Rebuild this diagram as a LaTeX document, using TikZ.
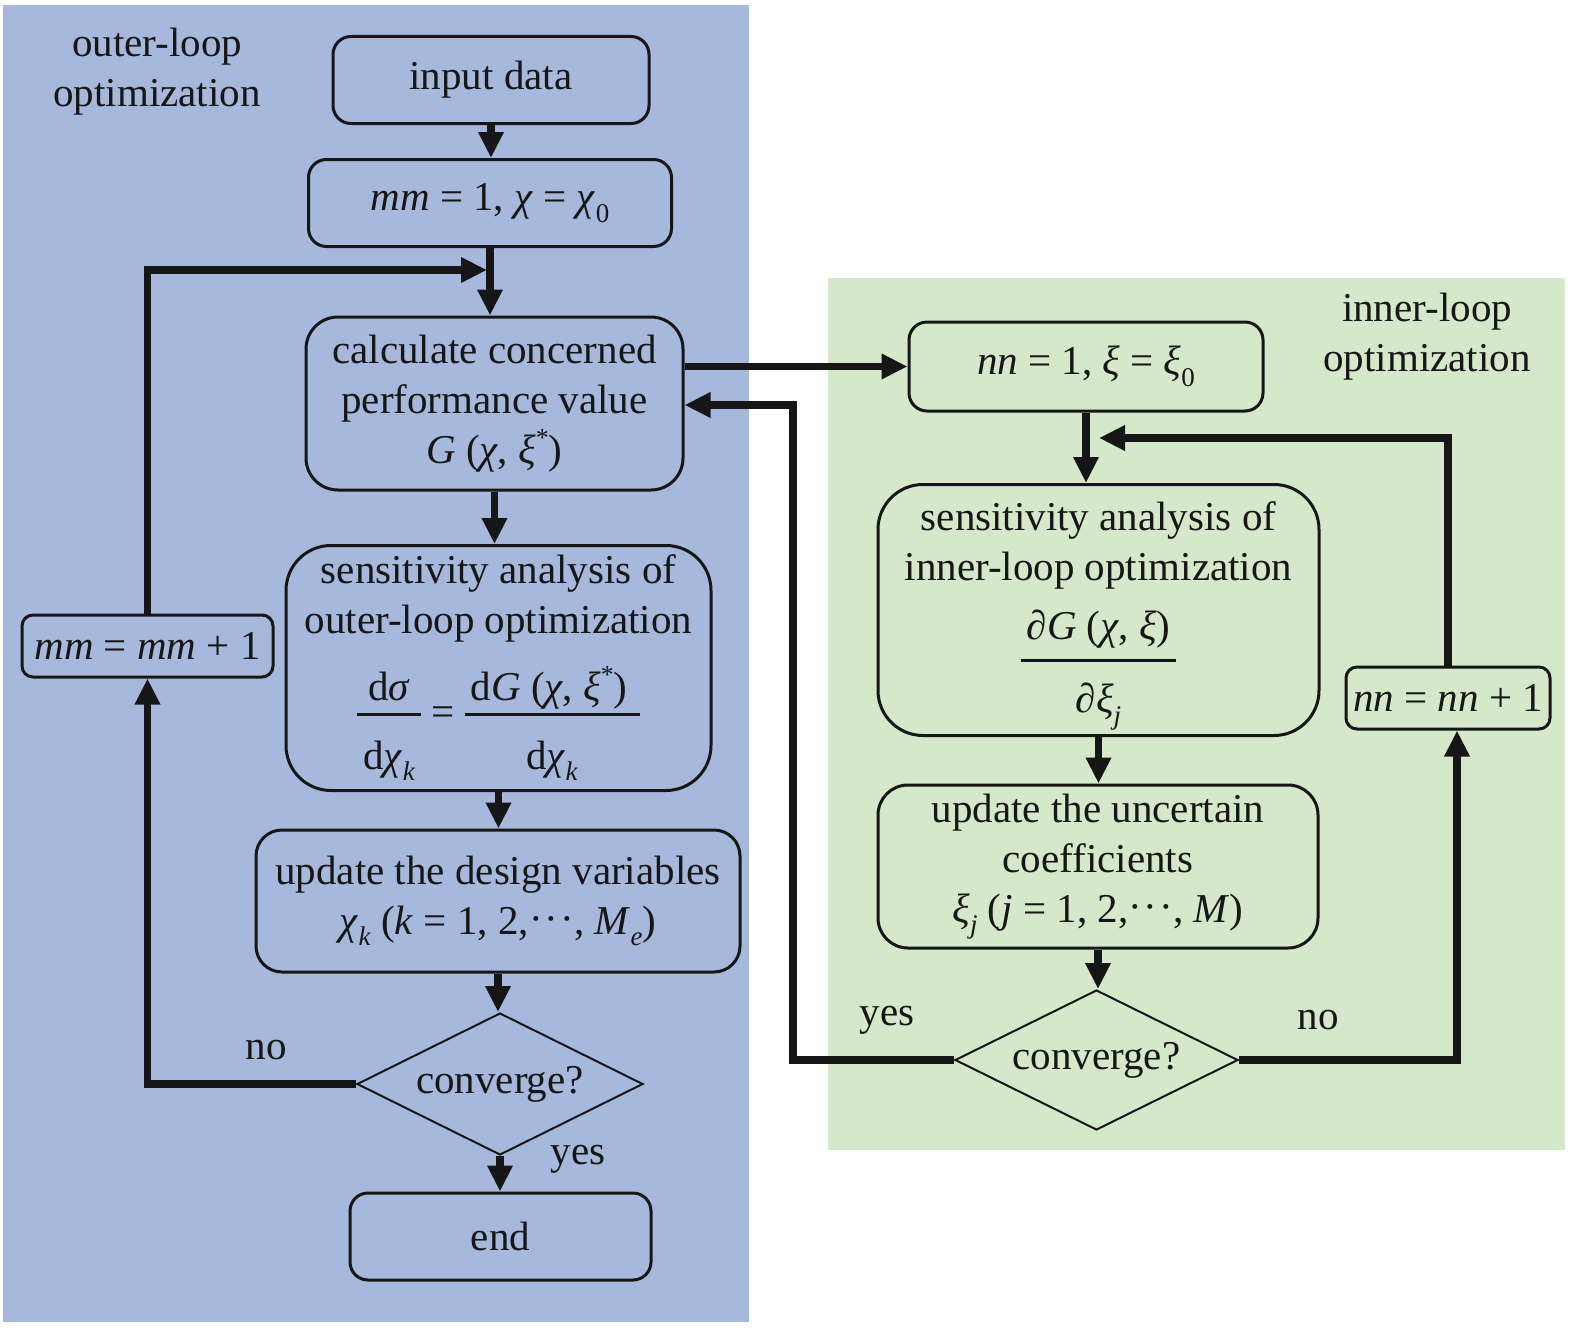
\documentclass[tikz,border=0pt]{standalone}
\usepackage{fontspec}
\setmainfont{Liberation Serif}
\usetikzlibrary{shapes.geometric,arrows.meta}
\definecolor{bluebg}{RGB}{166,184,219}
\definecolor{greenbg}{RGB}{213,232,201}
\definecolor{ink}{RGB}{22,22,22}
\newcommand\lowsub[1]{\raisebox{-0.28em}{\fontsize{27}{27}\selectfont #1}}
\newcommand\highsup[1]{\raisebox{0.42em}{\fontsize{26}{26}\selectfont #1}}
% \myfrac[raise]{numerator depth}{denominator height}{denominator depth}{num}{den}
\newcommand\myfrac[6][25pt]{%
  \raisebox{#1}{\vtop{\tabskip=0pt\halign{\hfil\kern6pt##\kern6pt\hfil\cr
    \vrule height 34pt depth #2 width 0pt\relax #5\cr
    \noalign{\kern3pt\hrule height 3pt\kern3pt}
    \vrule height #3 depth #4 width 0pt\relax #6\cr}}}}
\newcommand\mydots{\raisebox{0.05em}{·\kern2pt·\kern2pt·}}
\begin{document}
\begin{tikzpicture}[x=1pt,y=-1pt,
  box/.style={draw=ink, line width=3pt, align=center, inner sep=0pt, text=ink,
    font=\fontsize{41}{50}\selectfont},
  dia/.style={draw=ink, line width=2pt, diamond, aspect=2, inner sep=0pt, text=ink,
    font=\fontsize{41}{50}\selectfont},
  conn/.style={draw=ink, line width=7.5pt},
  arr/.style={conn, -{Triangle[length=26pt,width=24pt]}},
  lbl/.style={font=\fontsize{41}{50}\selectfont, text=ink, align=center, inner sep=0pt}
]
\useasboundingbox (0,0) rectangle (1575,1330);
\fill[white] (0,0) rectangle (1575,1330);
\fill[bluebg] (3,5) rectangle (749,1322);
\fill[greenbg] (828,278) rectangle (1565,1150);

% outer loop
\node[box, minimum width=316pt, minimum height=87pt, rounded corners=18pt] (inp) at (491,80) {input data};
\node[box, minimum width=363pt, minimum height=87pt, rounded corners=18pt] (mm1) at (490,203) {\textit{mm} = 1, \textit{χ} = \textit{χ}\lowsub{0}};
\node[box, minimum width=377pt, minimum height=173pt, rounded corners=32pt] (calc) at (494.5,403.5) {calculate concerned\\performance value\\\textit{G} (\textit{χ}, \textit{ξ}\highsup{*})};
\node[box, minimum width=425pt, minimum height=245pt, rounded corners=45pt] (sens1) at (498.5,668) {sensitivity analysis of\\outer-loop optimization\\[23pt]\myfrac{10pt}{50pt}{12pt}{d\textit{σ}}{d\textit{χ}\lowsub{\textit{k}}} = \myfrac{10pt}{50pt}{12pt}{d\textit{G} (\textit{χ}, \textit{ξ}\highsup{*})\kern6pt}{d\textit{χ}\lowsub{\textit{k}}}};
\node[box, minimum width=484pt, minimum height=142pt, rounded corners=26pt] (upd1) at (498,901) {update the design variables\\\textit{χ}\lowsub{\textit{k}} (\textit{k} = 1, 2,\mydots, \textit{M}\lowsub{\textit{e}})};
\node[dia, minimum width=286pt, minimum height=142pt] (dia1) at (500,1084) {converge?};
\node[box, minimum width=301pt, minimum height=87pt, rounded corners=18pt] (endn) at (500.5,1236.5) {end};
\node[box, minimum width=251pt, minimum height=62pt, rounded corners=11pt] (mm2) at (147.5,646) {\textit{mm} = \textit{mm} +\ 1};

% inner loop
\node[box, minimum width=354pt, minimum height=89pt, rounded corners=18pt] (nn1) at (1086,366.5) {\textit{nn} = 1, \textit{ξ} = \textit{ξ}\lowsub{0}};
\node[box, minimum width=441pt, minimum height=251pt, rounded corners=45pt] (sens2) at (1098.5,610) {\rule{0pt}{40pt}sensitivity analysis of\\inner-loop optimization\\[16pt]\myfrac{16pt}{48pt}{0pt}{∂\textit{G} (\textit{χ}, \textit{ξ})}{∂\textit{ξ}\lowsub{\textit{j}}}};
\node[box, minimum width=440pt, minimum height=163pt, rounded corners=30pt] (upd2) at (1098,866.5) {update the uncertain\\coefficients\\\textit{ξ}\lowsub{\textit{j}} (\textit{j} = 1, 2,\mydots, \textit{M})};
\node[dia, minimum width=283pt, minimum height=140pt] (dia2) at (1096.5,1060) {converge?};
\node[box, minimum width=204pt, minimum height=62pt, rounded corners=11pt] (nn2) at (1448,698) {\textit{nn} = \textit{nn} +\ 1};

% labels
\node[lbl] (lo) at (157,72) {outer-loop\\optimization};
\node[lbl] (li) at (1427,337) {inner-loop\\optimization};
\node[lbl] (no1) at (266,1050) {no};
\node[lbl] (yes1) at (578,1159) {yes};
\node[lbl] (yes2) at (887,1020) {yes};
\node[lbl] (no2) at (1318,1020) {no};

% helper coordinates
\coordinate (j1) at (487,270);
\coordinate (j2) at (1099,438);
\coordinate (ret) at (793,405);
\coordinate (nc) at (1457,1060);

% connectors
\draw[arr] (inp.south) -- (inp.south |- mm1.north);
\draw[arr] (mm1.south) -- (mm1.south |- calc.north);
\draw[arr] (mm2.north) |- (j1);
\draw[arr] (calc.south) -- (calc.south |- sens1.north);
\draw[arr] (sens1.south) -- (sens1.south |- upd1.north);
\draw[arr] (upd1.south) -- (upd1.south |- dia1.north);
\draw[arr] (dia1.south) -- (dia1.south |- endn.north);
\draw[arr] (dia1.west) -| (mm2.south);
\draw[arr] (calc.east |- nn1.west) -- (nn1.west);
\draw[arr] (dia2.west) -| (ret) -- (calc.east |- ret);
\draw[arr] (nn1.south) -- (nn1.south |- sens2.north);
\draw[arr] (nn2.north) |- (j2);
\draw[arr] (sens2.south) -- (sens2.south |- upd2.north);
\draw[arr] (upd2.south) -- (upd2.south |- dia2.north);
\draw[arr] (dia2.east) -- (nc) -- (nc |- nn2.south);
\end{tikzpicture}
\end{document}
